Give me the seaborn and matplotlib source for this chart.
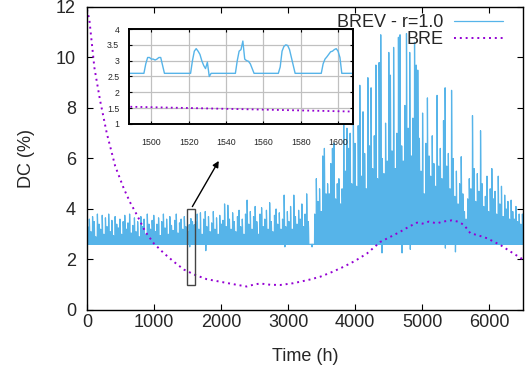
import numpy as np
import pandas as pd
import seaborn as sns
import matplotlib.pyplot as plt
from matplotlib.patches import Rectangle

# BREV - r=1.0 : daily peak DC (%), one value per day (24 h)
day_peaks = [
    3.3, 3.6, 3.1, 3.7, 3.5, 2.9, 3.8, 3.4, 3.2, 3.75,
    3.0, 3.65, 3.3, 3.8, 3.1, 3.55, 2.95, 3.7, 3.4, 3.25,
    3.6, 3.0, 3.5, 3.75, 3.2, 3.45, 3.8, 3.05, 3.35, 3.65,
    3.1, 3.5, 2.9, 3.7, 3.3, 3.6, 3.0, 3.8, 3.4, 3.2,
    3.55, 3.75, 3.1, 3.4, 3.65, 2.95, 3.5, 3.8, 3.25, 3.6,
    3.0, 3.7, 3.35, 3.15, 3.55, 3.8, 3.05, 3.45, 3.6, 3.2,
    3.7, 3.3, 3.1, 3.38, 3.62, 3.5, 3.38,
    3.5, 3.8, 3.2, 3.85, 3.0, 3.6, 3.9, 3.3, 3.7, 3.1,
    3.45, 3.9, 3.2, 3.65, 3.0, 3.75, 3.4, 3.55, 4.2, 3.3,
    4.15, 3.6, 3.2, 3.85, 3.5, 3.1, 3.7, 3.95, 3.3, 3.6,
    3.0, 3.8, 4.35,
    3.4, 3.9, 3.2, 3.7, 4.1, 3.5, 3.0, 3.8, 4.05, 3.3,
    3.6, 3.95, 3.2, 4.25, 3.5, 3.1, 3.75, 4.0, 3.4, 3.85,
    3.2, 3.6, 4.55, 3.3, 3.9, 3.5, 4.1, 3.2, 4.55, 3.7,
    3.4, 3.95, 3.6, 4.2, 3.3, 3.8, 4.6, 3.5, 2.6,
    2.6, 2.6, 3.8,
    5.2, 4.3, 4.8, 3.9, 6.1, 6.4, 4.6, 5.0, 4.6, 5.8,
    6.4, 6.6, 4.4, 5.0, 5.2, 4.2, 4.8, 7.7, 5.5, 7.2,
    6.4, 7.0, 5.0, 7.7, 6.6, 4.9, 7.3, 8.9, 5.3, 7.85,
    6.2, 4.8, 9.2, 6.5, 8.8, 5.6, 6.9, 9.7, 5.2, 9.8,
    10.9, 6.0, 5.4, 7.4, 5.9, 10.2, 9.3, 6.3, 10.4, 5.6,
    7.0, 10.8, 10.9, 6.5, 5.9, 8.1, 10.95, 7.2, 10.2, 6.1,
    7.6, 10.6, 9.7, 9.5, 6.8, 5.5, 7.8, 4.6, 6.6, 8.4,
    6.1, 5.3, 6.9, 5.8, 4.9, 8.5, 5.7, 6.4, 5.2, 7.5,
    8.8, 5.7, 6.2, 4.8, 8.7, 6.0, 4.5, 5.5, 4.2, 5.0,
    6.07, 4.6, 3.9, 3.6, 4.4, 5.2, 4.8, 7.7, 5.6, 4.3,
    5.4, 4.7, 7.1, 5.0, 4.1, 4.5, 5.3, 3.9, 4.8, 5.6,
    4.4, 4.7, 3.8, 5.3, 4.2, 4.9, 3.7, 4.55, 4.0, 4.3,
    3.6, 4.35, 3.9, 3.6, 4.1, 3.5, 3.8, 3.4, 3.8,
]
base_level = 2.6
# shape of one day's bump (fraction of peak above base)
day_shape = [0.0] * 9 + [0.45, 0.85, 1.0, 0.92, 0.85, 0.8, 0.7, 0.45, 0.15] + [0.0] * 6

# hourly values inside the zoom window
inset_start = 1488
inset_vals = ([2.6] * 9
              + [2.9, 3.1, 3.1, 3.05, 3.05, 3.02, 3.05, 3.1, 3.1, 2.85, 2.6]
              + [2.6] * 13
              + [2.6, 3.0, 3.3, 3.38, 3.3, 3.2, 3.0, 2.85, 2.75, 2.95, 2.5, 2.6]
              + [2.6] * 12
              + [2.6, 3.0, 3.3, 3.35, 3.62, 3.05, 3.0, 2.98, 2.9, 2.75, 2.6]
              + [2.6] * 13
              + [2.8, 3.3, 3.45, 3.5, 3.48, 3.35, 3.1, 2.85, 2.6]
              + [2.6] * 14
              + [2.9, 3.05, 3.12, 3.2, 3.28, 3.3, 3.35, 3.38, 3.3, 3.1, 2.6]
              + [2.6] * 6)

# occasional dips below the base level (hour, value)
dip_hours = [1771, 2950, 3355, 4398, 4697, 4820, 5343, 5493]
dip_vals = [2.35, 2.5, 2.5, 2.26, 2.26, 2.4, 2.45, 2.3]

# BRE curve
bre_hours = [0, 35, 110, 195, 295, 420, 550, 645, 745, 870,
             995, 1145, 1295, 1445, 1610, 1785, 1985, 2185, 2380, 2480,
             2580, 2730, 2880, 3075, 3180, 3330, 3480, 3650, 3825, 4000,
             4175, 4375, 4525, 4670, 4800, 4920, 5000, 5095, 5220, 5300,
             5440, 5530, 5620, 5715, 5840, 5965, 6165, 6315, 6500]
bre_vals = [11.9, 11.5, 9.6, 8.3, 7.0, 5.7, 4.8, 4.25, 3.76, 3.1,
            2.64, 2.25, 1.91, 1.6, 1.39, 1.22, 1.12, 1.02, 0.93, 1.0,
            1.05, 1.0, 0.99, 1.06, 1.12, 1.21, 1.32, 1.5, 1.71, 1.95,
            2.24, 2.7, 2.9, 3.1, 3.3, 3.46, 3.42, 3.5, 3.43, 3.5,
            3.55, 3.5, 3.37, 3.04, 2.95, 2.84, 2.57, 2.31, 2.0]

# build hourly BREV series
brev = []
for pk in day_peaks:
    for s in day_shape:
        brev.append(base_level + (pk - base_level) * s)
brev = np.array(brev[:6501])
brev[inset_start:inset_start + len(inset_vals)] = inset_vals
brev[dip_hours] = dip_vals
brev_df = pd.DataFrame({'hour': np.arange(len(brev)), 'dc': brev})
bre_df = pd.DataFrame({'hour': bre_hours, 'dc': bre_vals})

sns.set_style('ticks')
plt.rcParams['font.family'] = ['Liberation Sans', 'DejaVu Sans']

blue = '#56b4e9'
purple = '#9400d3'

fig = plt.figure(figsize=(5.26, 3.70), dpi=100)
ax = fig.add_axes([0.1654, 0.1622, 0.8289, 0.8189])

sns.lineplot(data=brev_df, x='hour', y='dc', ax=ax, color=blue, lw=0.9,
             estimator=None, sort=False, label='BREV - r=1.0')
sns.lineplot(data=bre_df, x='hour', y='dc', ax=ax, color=purple, lw=1.4,
             linestyle=(0, (1, 2.0)), estimator=None, sort=False, label='BRE')

ax.set_xlim(0, 6500)
ax.set_ylim(0, 12)
ax.set_xticks(range(0, 6001, 1000))
ax.set_yticks(range(0, 13, 2))
ax.set_xlabel('Time (h)', fontsize=13, labelpad=12)
ax.set_ylabel('DC (%)', fontsize=13, labelpad=15)
ax.tick_params(axis='both', direction='in', length=4, width=0.8, labelsize=13,
               top=True, right=True, color='black')
ax.tick_params(axis='x', pad=3)
ax.tick_params(axis='y', pad=8)
for sp in ax.spines.values():
    sp.set_visible(True)
    sp.set_color('black')
    sp.set_linewidth(1.0)

ax.legend(loc='upper right', bbox_to_anchor=(0.956, 0.961), bbox_transform=fig.transFigure,
          frameon=False, markerfirst=False, fontsize=13, handlelength=2.7,
          handletextpad=0.6, labelspacing=0.0, borderpad=0, borderaxespad=0)

# zoom window marker and arrow
ax.add_patch(Rectangle((1488, 1.0), 120, 3.0, fill=False, edgecolor='#444444', lw=1.0, zorder=5))
ax.annotate('', xy=(1985, 6.0), xytext=(1550, 4.0),
            arrowprops=dict(arrowstyle='-|>', color='black', lw=1.0, mutation_scale=9))

# inset
ins = fig.add_axes([0.2452, 0.6649, 0.4259, 0.2567])
ins.set_facecolor('white')
sns.lineplot(data=brev_df, x='hour', y='dc', ax=ins, color=blue, lw=1.0,
             estimator=None, sort=False, legend=False)
sns.lineplot(data=bre_df, x='hour', y='dc', ax=ins, color=purple, lw=1.3,
             linestyle=(0, (1, 1.8)), estimator=None, sort=False, legend=False)
ins.set_xlim(1488, 1608)
ins.set_ylim(1, 4)
ins.set_xticks(range(1500, 1601, 20))
ins.set_yticks([1, 1.5, 2, 2.5, 3, 3.5, 4])
ins.set_yticklabels(['1', '1.5', '2', '2.5', '3', '3.5', '4'])
ins.set_xlabel('')
ins.set_ylabel('')
ins.grid(True, color='#c0c0c0', lw=0.9)
ins.set_axisbelow(True)
ins.tick_params(axis='both', direction='in', length=2.5, width=0.8, labelsize=6.3,
                top=True, right=True, color='black')
ins.tick_params(axis='x', pad=10)
ins.tick_params(axis='y', pad=7)
for sp in ins.spines.values():
    sp.set_visible(True)
    sp.set_color('black')
    sp.set_linewidth(1.4)

fig.savefig('out.png', dpi=100)
plt.close(fig)
